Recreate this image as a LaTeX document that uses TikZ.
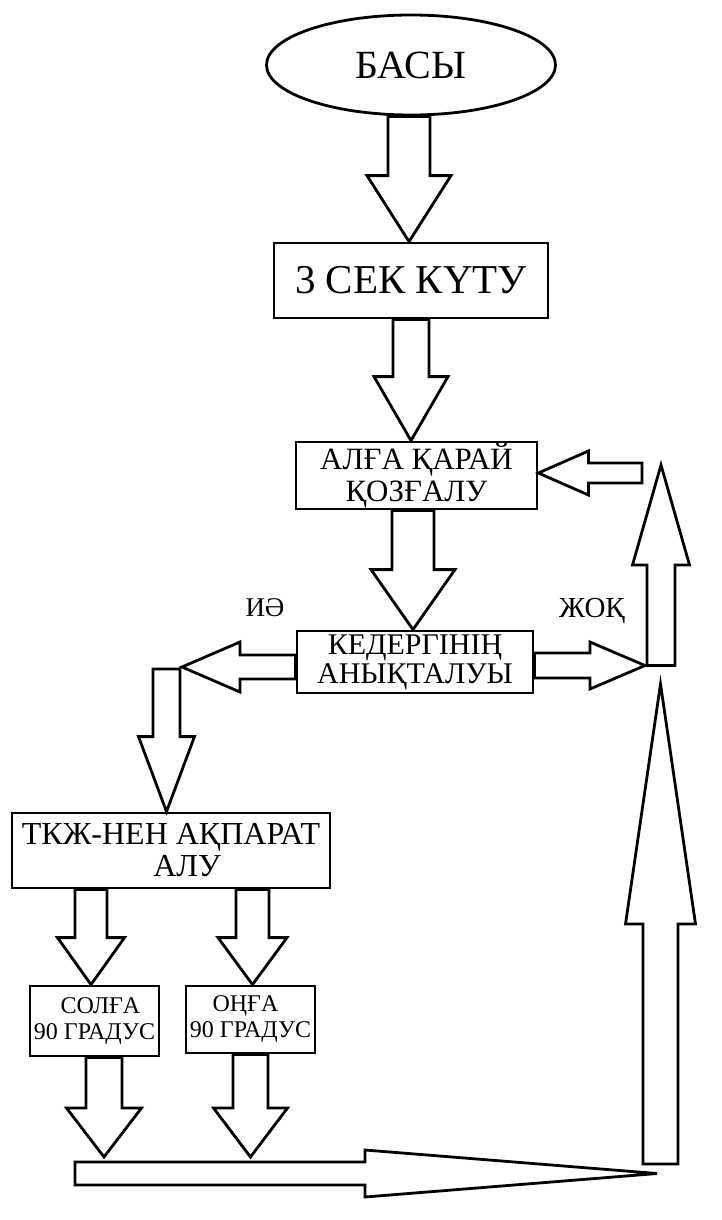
\documentclass[tikz,border=0pt]{standalone}
\usepackage{fontspec}
\setmainfont{Liberation Serif}
\usetikzlibrary{calc,shapes.geometric}
\tikzset{
  start oval/.style={ellipse,draw,line width=2.8pt,inner sep=0pt,minimum width=289pt,minimum height=100pt,font=\fontsize{40pt}{44pt}\selectfont},
  big box/.style={draw,line width=2.8pt,inner sep=0pt,align=center,font=\fontsize{41pt}{46pt}\selectfont},
  mid box/.style={draw,line width=2.8pt,inner sep=0pt,align=center,font=\fontsize{31pt}{32pt}\selectfont},
  turn box/.style={draw,line width=2.8pt,inner sep=0pt,align=center,minimum width=129pt,font=\fontsize{24pt}{26pt}\selectfont},
  branch label/.style={inner sep=0pt,font=\fontsize{27pt}{30pt}\selectfont},
  block arrow/.style={draw,line width=2.8pt,line join=miter},
}
% #1 foot, #2 tip, #3 half shaft, #4 half head, #5 head length
\newcommand{\blockArrow}[5]{
\coordinate (ba-s) at #1;
\coordinate (ba-t) at #2;
\coordinate (ba-h) at ($(ba-t)!#5!(ba-s)$);
\draw[block arrow] ($(ba-s)!#3!90:(ba-t)$) -- ($(ba-h)!#3!90:(ba-t)$) -- ($(ba-h)!#4!90:(ba-t)$) -- (ba-t)
  -- ($(ba-h)!#4!-90:(ba-t)$) -- ($(ba-h)!#3!-90:(ba-t)$) -- ($(ba-s)!#3!-90:(ba-t)$) -- cycle;
}

\begin{document}
\begin{tikzpicture}[x=1pt,y=-1pt]
\useasboundingbox (0,0) rectangle (722,1220);
% blocks
\node[start oval] (basy) at (411,65) {БАСЫ};
\node[big box,minimum width=274pt,minimum height=75pt] (wait) at (411,280.5) {3 СЕК КҮТУ};
\node[mid box,minimum width=241pt,minimum height=67pt] (move) at (416.5,475.5) {АЛҒА ҚАРАЙ\\ҚОЗҒАЛУ};
\node[mid box,minimum width=236pt,minimum height=62pt,font=\fontsize{30pt}{29pt}\selectfont] (detect) at (415,662) {КЕДЕРГІНІҢ\\АНЫҚТАЛУЫ};
\node[mid box,minimum width=318pt,minimum height=75pt,font=\fontsize{32pt}{32pt}\selectfont] (info) at (171,850.5) {ТКЖ-НЕН АҚПАРАТ\\\hspace*{32pt}АЛУ};
\node[turn box,minimum height=70pt] (left) at (94.5,1021) {\hspace*{12pt}СОЛҒА\\90 ГРАДУС};
\node[turn box,minimum height=67pt] (right) at (250.5,1019.5) {ОҢҒА\hspace*{10pt}\\90 ГРАДУС};
\node[branch label] (yes) at (265,608) {ИӘ};
\node[branch label,font=\fontsize{29pt}{32pt}\selectfont] (no) at (592,611) {ЖОҚ};
% free ends
\coordinate (noEnd) at (645,665.5);
\coordinate (upFoot) at (661,665.5);
\coordinate (upTip) at (661,465);
\coordinate (backStart) at (642,473);
\coordinate (yesEnd) at (182,667);
\coordinate (yesFoot) at (166.5,669);
\coordinate (barTop) at (0,1157);
\coordinate (barStart) at (75,1173.5);
\coordinate (barEnd) at (657,1173.5);
\coordinate (riseFoot) at (660.5,1164);
\coordinate (riseTip) at (660.5,684);
% main line
\blockArrow{(409,0 |- basy.south)}{(409,0 |- wait.north)}{21pt}{42pt}{66pt}
\blockArrow{(411,0 |- wait.south)}{(411,0 |- move.north)}{18pt}{37pt}{64pt}
\blockArrow{(413,0 |- move.south)}{(413,0 |- detect.north)}{21pt}{42pt}{60pt}
% no branch
\blockArrow{(detect.east |- noEnd)}{(noEnd)}{12.5pt}{23.5pt}{55pt}
\blockArrow{(upFoot)}{(upTip)}{14pt}{28.5pt}{100pt}
\blockArrow{(backStart)}{(move.east |- backStart)}{10pt}{22pt}{50pt}
% yes branch
\blockArrow{(detect.west |- yesEnd)}{(yesEnd)}{12pt}{25pt}{58pt}
\blockArrow{(yesFoot)}{(yesFoot |- info.north)}{13.5pt}{28pt}{75pt}
\blockArrow{(91,0 |- info.south)}{(91,0 |- left.north)}{16pt}{33.5pt}{47pt}
\blockArrow{(252.5,0 |- info.south)}{(252.5,0 |- right.north)}{16.5pt}{34.5pt}{47pt}
\blockArrow{(104,0 |- left.south)}{(104,0 |- barTop)}{18pt}{37.5pt}{49pt}
\blockArrow{(250.5,0 |- right.south)}{(250.5,0 |- barTop)}{17.5pt}{37pt}{49pt}
% return path
\blockArrow{(barStart)}{(barEnd)}{11.5pt}{23.5pt}{292pt}
\blockArrow{(riseFoot)}{(riseTip)}{17.5pt}{35pt}{240pt}
\end{tikzpicture}
\end{document}
